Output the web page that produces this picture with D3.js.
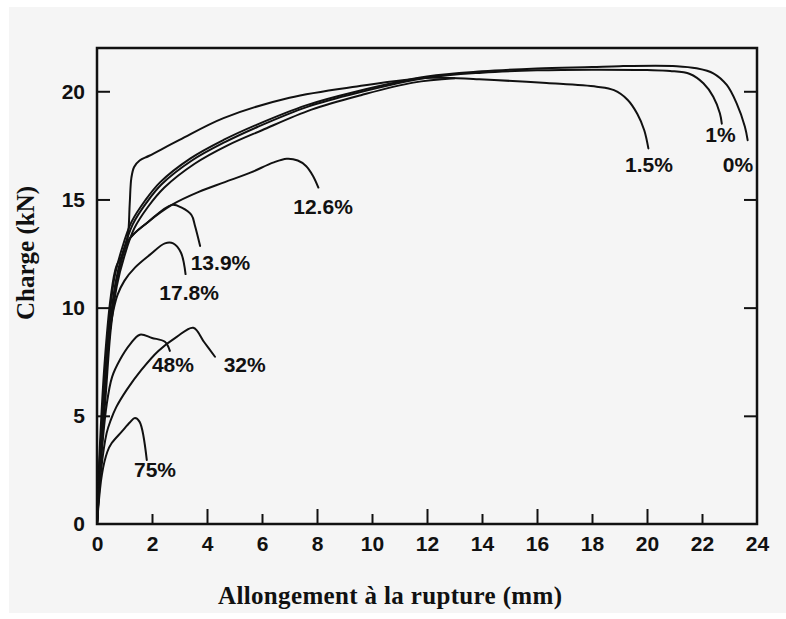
<!DOCTYPE html>
<html>
<head>
<meta charset="utf-8">
<script src="https://cdn.jsdelivr.net/npm/d3@7"></script>
<style>
  html, body { margin: 0; padding: 0; background: #fff; }
</style>
</head>
<body>
<div id="chart"></div>
<script>
// courbes charge / allongement, [allongement mm, charge kN]
const c0 = [[0,0],[0.1,3],[0.25,6],[0.42,9],[0.62,11.3],[0.9,12.7],[1.25,13.95],[1.75,14.95],[2.3,15.8],[3.4,16.9],[4.6,17.75],[5.8,18.45],[7.6,19.35],[9.4,19.98],[12,20.68],[14,20.92],[16,21.05],[18,21.12],[19,21.16],[21.08,21.16],[21.8,21.06],[22.41,20.83],[22.9,20.29],[23.26,19.44],[23.56,18.36],[23.66,17.74]];
const c1 = [[0,0],[0.12,3],[0.28,6],[0.46,9],[0.68,11.2],[0.95,12.6],[1.3,13.85],[1.8,14.85],[2.35,15.7],[3.45,16.8],[4.65,17.65],[5.85,18.36],[7.65,19.28],[9.45,19.92],[12,20.62],[14,20.86],[16,20.97],[18,21.0],[20,20.98],[20.84,20.94],[21.56,20.8],[22.05,20.37],[22.41,19.75],[22.65,18.98],[22.72,18.5]];
const cBundle = [[0,0],[0.14,3],[0.32,6],[0.5,9],[0.72,11],[1.0,12.4],[1.35,13.65],[1.85,14.65],[2.45,15.55],[3.55,16.65],[4.75,17.5],[6,18.2],[7.8,19.15],[9.6,19.82],[11.5,20.4],[13,20.6]];
const c15 = [[0,0],[0.1,3.5],[0.28,7.5],[0.5,10.5],[0.7,11.9],[0.95,12.5],[1.12,13.3],[1.19,14.8],[1.25,16.0],[1.35,16.5],[1.55,16.8],[1.9,17.02],[3.0,17.75],[4.6,18.76],[7.0,19.7],[9.45,20.22],[12.1,20.62],[13.9,20.55],[16.35,20.38],[18.17,20.21],[18.8,20.05],[19.3,19.6],[19.65,18.95],[19.9,18.2],[20.05,17.36]];
const c126 = [[0,0],[0.1,2.5],[0.25,5.5],[0.4,8],[0.55,9.8],[0.75,11.4],[1.14,13.1],[1.87,13.97],[2.72,14.75],[3.7,15.35],[4.65,15.8],[5.6,16.25],[6.4,16.7],[6.9,16.88],[7.3,16.8],[7.6,16.55],[7.85,16.1],[8.05,15.55]];
const c139 = [[0,0],[0.1,2.5],[0.25,5.5],[0.4,8],[0.55,9.8],[0.75,11.4],[1.14,13.1],[1.87,13.97],[2.72,14.75],[3.08,14.62],[3.44,14.27],[3.56,13.8],[3.75,12.85]];
const c178 = [[0,0],[0.1,2.8],[0.25,6],[0.45,8.8],[0.6,9.9],[0.75,10.6],[1.0,11.25],[1.38,11.85],[1.93,12.45],[2.47,12.97],[2.77,12.97],[3.05,12.55],[3.22,11.55]];
const c48 = [[0,0],[0.15,3],[0.35,5.5],[0.55,6.8],[0.84,7.6],[1.2,8.3],[1.56,8.75],[2.0,8.6],[2.47,8.42],[2.65,8.0]];
const c32 = [[0,0],[0.15,2.5],[0.35,4.2],[0.5,4.8],[0.7,5.4],[1.08,6.2],[1.6,7.1],[2.23,8.0],[2.9,8.65],[3.5,9.07],[3.9,8.4],[4.29,7.73]];
const c75 = [[0,0],[0.18,2.3],[0.38,3.35],[0.53,3.73],[0.9,4.27],[1.2,4.7],[1.38,4.9],[1.55,4.72],[1.81,2.96]];

const curves = [c0, c1, cBundle, c15, c126, c139, c178, c48, c32, c75];

// étiquettes des courbes (centre du texte, en unités du graphique)
const labelText = ["1%", "0%", "1.5%", "12.6%", "13.9%", "17.8%", "48%", "32%", "75%"];
const labelX = [22.67, 23.31, 20.07, 8.22, 4.49, 3.35, 2.76, 5.37, 2.11];
const labelY = [18.02, 16.61, 16.64, 14.69, 12.09, 10.72, 7.39, 7.39, 2.51];

const xTicks = [0, 2, 4, 6, 8, 10, 12, 14, 16, 18, 20, 22, 24];
const yTicks = [0, 5, 10, 15, 20];

const width = 786, height = 619;
const ink = "#111";

const svg = d3.select("#chart").append("svg")
    .attr("width", width)
    .attr("height", height);

svg.append("rect").attr("width", width).attr("height", height).attr("fill", "#fff");
svg.append("rect").attr("x", 9).attr("y", 7).attr("width", width - 9).attr("height", 606).attr("fill", "#f5f5f5");

const x = d3.scaleLinear().domain([0, 24]).range([97, 757]);
const y = d3.scaleLinear().domain([0, 22]).range([524, 48]);

// axe x (traits vers l'intérieur, longueurs alternées)
const gx = svg.append("g")
    .attr("transform", `translate(0,${y(0)})`)
    .call(d3.axisBottom(x).tickValues(xTicks).tickSizeInner(-10).tickSizeOuter(0).tickPadding(12));
gx.select(".domain").remove();
gx.selectAll(".tick line")
    .attr("stroke", ink).attr("stroke-width", 2)
    .attr("y2", d => (d === 0 || d === 24) ? 0 : (d % 4 === 0 ? -15 : -10));
gx.selectAll(".tick text")
    .attr("fill", ink)
    .style("font-family", "'Liberation Sans', Arial, sans-serif")
    .style("font-weight", "bold")
    .style("font-size", "21px");

// axe y gauche
const gy = svg.append("g")
    .attr("transform", `translate(${x(0)},0)`)
    .call(d3.axisLeft(y).tickValues(yTicks).tickSizeInner(-13).tickSizeOuter(0).tickPadding(12));
gy.select(".domain").remove();
gy.selectAll(".tick line")
    .attr("stroke", ink).attr("stroke-width", 2)
    .attr("x2", d => d === 0 ? 0 : 13);
gy.selectAll(".tick text")
    .attr("fill", ink)
    .style("font-family", "'Liberation Sans', Arial, sans-serif")
    .style("font-weight", "bold")
    .style("font-size", "21px");

// axe y droit, sans libellés
const gr = svg.append("g")
    .attr("transform", `translate(${x(24)},0)`)
    .call(d3.axisRight(y).tickValues(yTicks.slice(1)).tickSizeInner(-13).tickSizeOuter(0).tickFormat(""));
gr.select(".domain").remove();
gr.selectAll(".tick line").attr("stroke", ink).attr("stroke-width", 2);

// cadre
svg.append("rect")
    .attr("x", x(0)).attr("y", y(22))
    .attr("width", x(24) - x(0)).attr("height", y(0) - y(22))
    .attr("fill", "none").attr("stroke", ink).attr("stroke-width", 2.5);

// courbes
const line = d3.line()
    .x(d => x(d[0]))
    .y(d => y(d[1]))
    .curve(d3.curveCatmullRom.alpha(0.5));

svg.append("g")
    .selectAll("path")
    .data(curves)
    .join("path")
    .attr("d", line)
    .attr("fill", "none")
    .attr("stroke", ink)
    .attr("stroke-width", 2)
    .attr("stroke-linejoin", "round")
    .attr("stroke-linecap", "round");

// étiquettes
svg.append("g")
    .selectAll("text")
    .data(labelText)
    .join("text")
    .attr("x", (d, i) => x(labelX[i]))
    .attr("y", (d, i) => y(labelY[i]))
    .attr("dy", "0.36em")
    .attr("text-anchor", "middle")
    .attr("fill", ink)
    .style("font-family", "'Liberation Sans', Arial, sans-serif")
    .style("font-weight", "bold")
    .style("font-size", "21px")
    .text(d => d);

// titres des axes
svg.append("text")
    .attr("x", 390)
    .attr("y", 604)
    .attr("text-anchor", "middle")
    .attr("textLength", 344)
    .attr("lengthAdjust", "spacing")
    .attr("fill", ink)
    .style("font-family", "'Liberation Serif', 'Times New Roman', serif")
    .style("font-weight", "bold")
    .style("font-size", "25px")
    .text("Allongement à la rupture (mm)");

svg.append("text")
    .attr("transform", "translate(34,253) rotate(-90)")
    .attr("text-anchor", "middle")
    .attr("fill", ink)
    .style("font-family", "'Liberation Serif', 'Times New Roman', serif")
    .style("font-weight", "bold")
    .style("font-size", "25px")
    .text("Charge (kN)");
</script>
</body>
</html>
